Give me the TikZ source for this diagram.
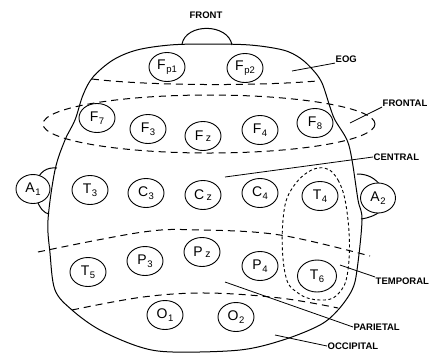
\documentclass[tikz,border=0pt]{standalone}
\usepackage{fontspec}
\setmainfont{Liberation Sans}
\usetikzlibrary{shapes.geometric}
\newcommand\elab[2]{{\fontsize{14}{14}\selectfont #1}\kern0.6pt\raisebox{-2.5pt}{\fontsize{9.5}{9.5}\selectfont #2}}
\newcommand\elz[1]{{\fontsize{14}{14}\selectfont #1}\kern2.5pt\raisebox{-1pt}{\fontsize{10.5}{10.5}\selectfont z}}
\begin{document}
\begin{tikzpicture}[x=1pt,y=-1pt,
  electrode/.style={ellipse,draw,fill=white,line width=0.9pt,minimum width=36pt,minimum height=29pt,inner sep=0pt},
  region/.style={line width=1pt,dash pattern=on 7pt off 5pt},
  tregion/.style={line width=0.9pt,dash pattern=on 3pt off 2.5pt},
  outline/.style={line width=1pt},
  lbl/.style={font=\fontsize{9.5}{10}\selectfont\bfseries,inner sep=0.5pt,anchor=west},
  leader/.style={line width=0.8pt}]
\useasboundingbox (0,0) rectangle (430,354);
% nose
\draw[outline] (182,44) .. controls (186,23) and (228,23) .. (232,45);
% ears
\draw[outline] (57,168) .. controls (46,167) and (40,172) .. (36,182);
\draw[outline] (36,198) .. controls (40,209) and (44,213) .. (49,214);
\draw[outline] (357,174) .. controls (368,174) and (375,178) .. (382,187);
\draw[outline] (382,210) .. controls (375,216) and (368,218) .. (361,219);
% head
\draw[outline] plot[smooth cycle,tension=0.55] coordinates {
 (83,95) (93,77) (113,60) (137,50) (170,45) (207,44) (250,45) (283,50) (300,58)
 (313,70) (322,83) (330,107) (335,120) (347,140) (352,160) (358,200) (362,220)
 (357,270) (352,290) (338,310) (320,325) (283,340) (240,350) (173,352) (140,347)
 (100,330) (72,310) (55,290) (50,253) (48,220) (55,170) (65,140) (75,120)};
% region boundaries
\draw[region] (92,79) .. controls (150,86) and (260,86) .. (317,81);
\draw[region] (209,124) ellipse [x radius=166, y radius=29];
\draw[region] plot[smooth,tension=0.6] coordinates {(38,252) (143,232) (200,230) (280,235) (370,256)};
\draw[region] plot[smooth,tension=0.6] coordinates {(72,310) (143,297) (207,293) (280,298) (338,308)};
\draw[tregion] plot[smooth cycle,tension=0.7] coordinates {(318,168) (338,180) (348,220) (348,270) (338,294) (320,300) (298,293) (285,273) (283,220) (293,187)};
% electrodes
\node[electrode] (fp1) at (167,67) {\elab{F}{p1}};
\node[electrode] (fp2) at (245,68) {\elab{F}{p2}};
\node[electrode] (f7) at (97,118) {\elab{F}{7}};
\node[electrode] (f3) at (148,129) {\elab{F}{3}};
\node[electrode] (fz) at (203,136) {\elz{F}};
\node[electrode] (f4) at (260,130) {\elab{F}{4}};
\node[electrode] (f8) at (315,123) {\elab{F}{8}};
\node[electrode,minimum width=34pt] (a1) at (33,189) {\elab{A}{1}};
\node[electrode] (t3) at (90,190) {\elab{T}{3}};
\node[electrode] (c3) at (146,193) {\elab{C}{3}};
\node[electrode] (cz) at (203,195) {\elz{C}};
\node[electrode] (c4) at (260,193) {\elab{C}{4}};
\node[electrode] (t4) at (320,196) {\elab{T}{4}};
\node[electrode,minimum width=35pt,minimum height=30pt] (a2) at (378,198) {\elab{A}{2}};
\node[electrode] (t5) at (88,272) {\elab{T}{5}};
\node[electrode] (p3) at (145,261) {\elab{P}{3}};
\node[electrode] (pz) at (202,252) {\elz{P}};
\node[electrode] (p4) at (260,266) {\elab{P}{4}};
\node[electrode,minimum width=39pt,minimum height=32pt] (t6) at (317,276) {\elab{T}{6}};
\node[electrode] (o1) at (165,315) {\elab{O}{1}};
\node[electrode] (o2) at (236,317) {\elab{O}{2}};
% labels
\node[lbl,anchor=center] (front) at (206,15) {FRONT};
\node[lbl] (eog) at (335,59) {EOG};
\node[lbl] (frontal) at (382,103) {FRONTAL};
\node[lbl] (central) at (373,157) {CENTRAL};
\node[lbl] (temporal) at (375,281) {TEMPORAL};
\node[lbl] (parietal) at (353,327) {PARIETAL};
\node[lbl] (occipital) at (327,346) {OCCIPITAL};
% leader anchors
\coordinate (eogp) at (292,71);
\coordinate (frontalp) at (350,123);
\coordinate (centralp) at (225,177);
\coordinate (temporalp) at (340,265);
\coordinate (parietalp) at (225,282);
\coordinate (occipitalp) at (275,335);
\draw[leader] (eogp) -- (eog.south west);
\draw[leader] (frontalp) -- (frontal.south west);
\draw[leader] (centralp) -- (central.west);
\draw[leader] (temporalp) -- (temporal.north west);
\draw[leader] (parietalp) -- (parietal.west);
\draw[leader] (occipitalp) -- (occipital.west);
\end{tikzpicture}
\end{document}
